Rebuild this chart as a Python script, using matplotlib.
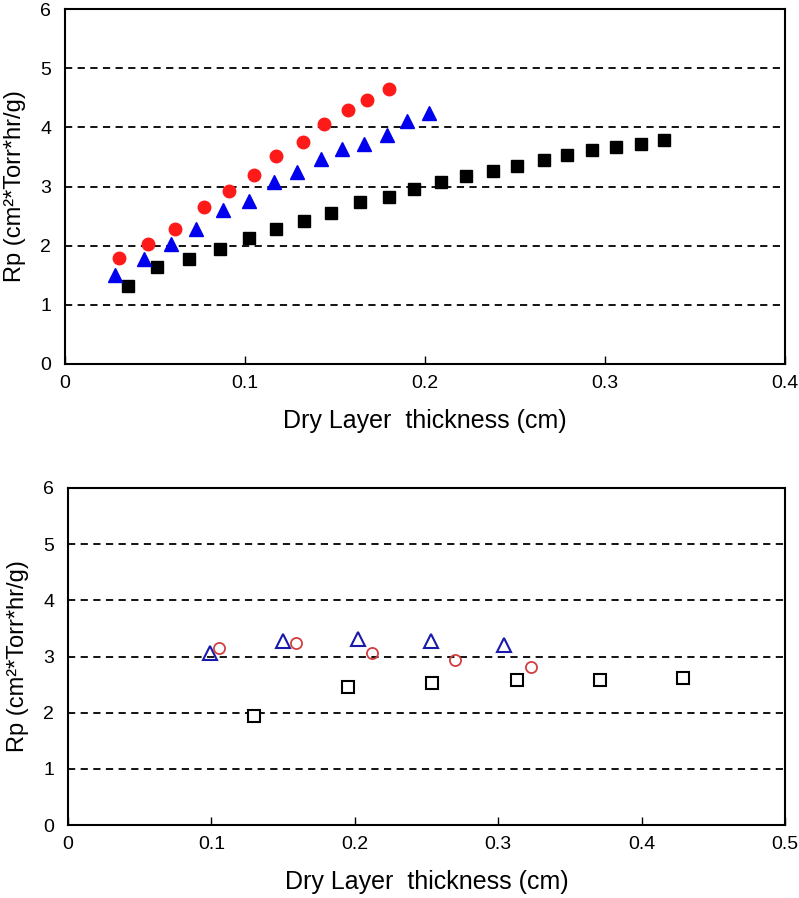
import matplotlib
matplotlib.use("Agg")
import matplotlib.pyplot as plt

plt.rcParams['font.family'] = ['Liberation Sans Narrow', 'Liberation Sans', 'DejaVu Sans']

# Top panel data
red_x = [0.030, 0.046, 0.061, 0.077, 0.091, 0.105, 0.117, 0.132, 0.144, 0.157, 0.168, 0.180]
red_y = [1.80, 2.02, 2.29, 2.65, 2.93, 3.20, 3.52, 3.75, 4.06, 4.30, 4.46, 4.65]
blue_x = [0.028, 0.044, 0.059, 0.073, 0.088, 0.102, 0.116, 0.129, 0.142, 0.154, 0.166, 0.179, 0.190, 0.202]
blue_y = [1.50, 1.78, 2.02, 2.29, 2.61, 2.76, 3.08, 3.25, 3.46, 3.63, 3.71, 3.87, 4.11, 4.25]
blk_x = [0.035, 0.051, 0.069, 0.086, 0.102, 0.117, 0.133, 0.148, 0.164, 0.180, 0.194, 0.209, 0.223, 0.238,
         0.251, 0.266, 0.279, 0.293, 0.306, 0.320, 0.333]
blk_y = [1.32, 1.64, 1.77, 1.94, 2.13, 2.28, 2.41, 2.56, 2.73, 2.83, 2.96, 3.08, 3.18, 3.27,
         3.35, 3.45, 3.54, 3.62, 3.66, 3.71, 3.78]

# Bottom panel data
tri_x = [0.099, 0.150, 0.202, 0.253, 0.304]
tri_y = [3.07, 3.28, 3.32, 3.28, 3.21]
circ_x = [0.105, 0.159, 0.212, 0.270, 0.323]
circ_y = [3.16, 3.24, 3.07, 2.94, 2.82]
sq_x = [0.130, 0.195, 0.254, 0.313, 0.371, 0.429]
sq_y = [1.94, 2.45, 2.53, 2.58, 2.58, 2.61]

top_xticks = [0, 0.1, 0.2, 0.3, 0.4]
top_xlabels = ['0', '0.1', '0.2', '0.3', '0.4']
bot_xticks = [0, 0.1, 0.2, 0.3, 0.4, 0.5]
bot_xlabels = ['0', '0.1', '0.2', '0.3', '0.4', '0.5']
yticks = [0, 1, 2, 3, 4, 5, 6]
ylabel = 'Rp (cm²*Torr*hr/g)'
xlabel = 'Dry Layer  thickness (cm)'

fig = plt.figure(figsize=(7.99, 8.98), dpi=100)
ax1 = fig.add_axes([65/799, 1-364/898, (785-65)/799, (364-9)/898])
ax2 = fig.add_axes([68/799, 1-825/898, (785-68)/799, (825-488)/898])

def style(ax, xt, xl, xmax):
    ax.set_xlim(0, xmax)
    ax.set_ylim(0, 6)
    ax.set_xticks(xt)
    ax.set_xticklabels(xl)
    ax.set_yticks(yticks)
    for y in [1, 2, 3, 4, 5]:
        ax.axhline(y, color='black', linestyle=(0, (4, 3)), linewidth=1.3, zorder=1)
    ax.tick_params(direction='in', length=6, labelsize=14, width=1, top=False, right=False, pad=8)
    ax.tick_params(axis='y', length=0, pad=10)
    for s in ax.spines.values():
        s.set_linewidth(1.5)
    ax.set_ylabel(ylabel, fontsize=17, labelpad=10)
    ax.set_xlabel(xlabel, fontsize=18, labelpad=12)

style(ax1, top_xticks, top_xlabels, 0.4)
ax1.plot(blk_x, blk_y, 's', color='black', markersize=9, zorder=3)
ax1.plot(blue_x, blue_y, '^', color='#0000ee', markersize=10, zorder=3)
ax1.plot(red_x, red_y, 'o', color='#ff1a1a', markersize=9, zorder=3)

style(ax2, bot_xticks, bot_xlabels, 0.5)
ax2.plot(sq_x, sq_y, 's', markerfacecolor='white', markeredgecolor='black', markersize=9, markeredgewidth=1.5, zorder=3)
ax2.plot(tri_x, tri_y, '^', markerfacecolor='none', markeredgecolor='#1a1aaa', markersize=10, markeredgewidth=1.5, zorder=3)
ax2.plot(circ_x, circ_y, 'o', markerfacecolor='none', markeredgecolor='#d04040', markersize=8, markeredgewidth=1.3, zorder=3)

fig.savefig('out.png', dpi=100)
